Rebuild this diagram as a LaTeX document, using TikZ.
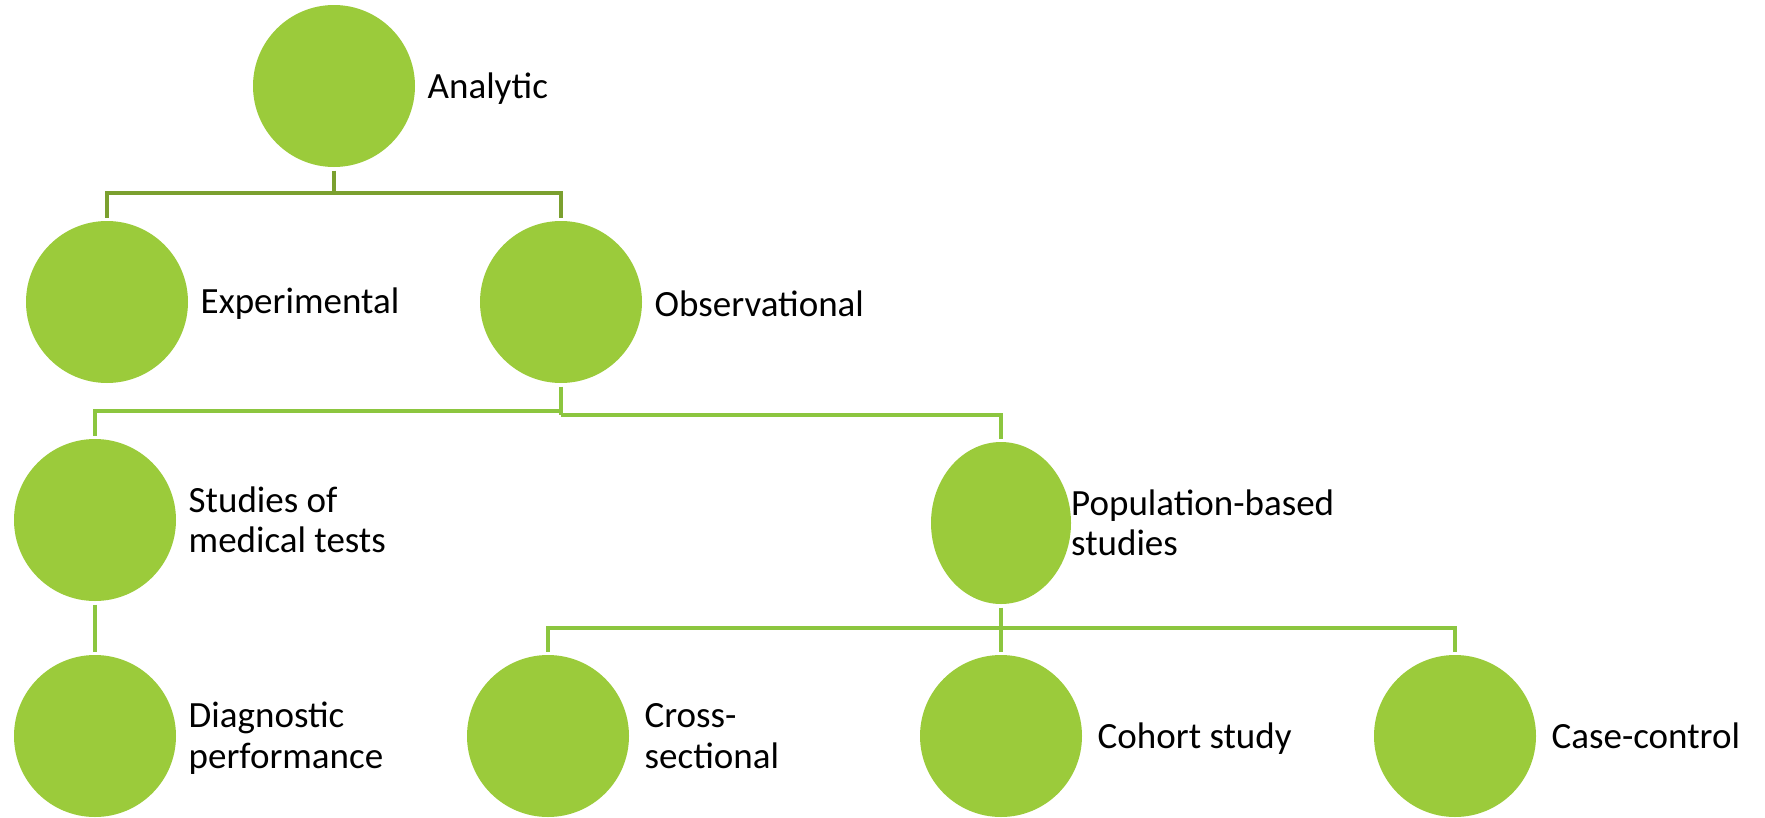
\documentclass[tikz,border=0pt]{standalone}
\usepackage{fontspec}
\setmainfont{Carlito}
\usetikzlibrary{shapes.geometric,calc}
\definecolor{cfill}{HTML}{9BCB3B}
\definecolor{ltop}{HTML}{7BA02F}
\definecolor{lrest}{HTML}{8CC63F}
\begin{document}
\begin{tikzpicture}[x=1pt,y=-1pt,
  bubble/.style={circle,fill=cfill,draw=none,minimum size=162pt,inner sep=0pt,outer sep=3.5pt},
  ebubble/.style={ellipse,fill=cfill,draw=none,minimum width=140pt,minimum height=162pt,inner sep=0pt,outer sep=3.5pt},
  lbl/.style={anchor=west,inner sep=0pt,align=left,font=\fontsize{37}{40.5}\selectfont},
  conn/.style={draw=lrest,line width=3.5pt},
  conntop/.style={draw=ltop,line width=3.5pt}]
\useasboundingbox (0,0) rectangle (1765,817);
\node[bubble] (a) at (334,86) {};
\node[bubble] (exp) at (107,302) {};
\node[bubble] (obs) at (561,302) {};
\node[bubble] (smt) at (95,520) {};
\node[ebubble] (pop) at (1001,523) {};
\node[bubble] (diag) at (95,736) {};
\node[bubble] (cross) at (548,736) {};
\node[bubble] (coh) at (1001,736) {};
\node[bubble] (case) at (1455,736) {};

\node[lbl,xshift=9pt,yshift=-3pt] (ta) at (a.east) {Analytic};
\node[lbl,xshift=9pt,yshift=-2pt] (texp) at (exp.east) {Experimental};
\node[lbl,xshift=9pt,yshift=-2pt] (tobs) at (obs.east) {Observational};
\node[lbl,xshift=9pt] (tsmt) at (smt.east) {Studies of\\medical tests};
\node[lbl,xshift=-3.5pt] (tpop) at (pop.east) {Population-based\\studies};
\node[lbl,xshift=9pt,yshift=-2pt] (tdiag) at (diag.east) {Diagnostic\\performance};
\node[lbl,xshift=12pt] (tcross) at (cross.east) {Cross-\\sectional};
\node[lbl,xshift=12pt,yshift=-3pt] (tcoh) at (coh.east) {Cohort study};
\node[lbl,xshift=12pt] (tcase) at (case.east) {Case-control};

\coordinate (j1) at (334,193);
\coordinate (j2) at (561,411);
\coordinate (j3) at (561,415);
\coordinate (j4) at (1001,628);

\draw[conntop] (a.south) -- (j1);
\draw[conntop] (exp.north) |- (j1) -| (obs.north);
\draw[conn] (obs.south) -- (j3);
\draw[conn] (j2) -| (smt.north);
\draw[conn] (j3) -| (pop.north);
\draw[conn] (smt.south) -- (diag.north);
\draw[conn] (pop.south) -- (j4);
\draw[conn] (cross.north) |- (j4) -| (case.north);
\draw[conn] (j4) -- (coh.north);
\end{tikzpicture}
\end{document}
